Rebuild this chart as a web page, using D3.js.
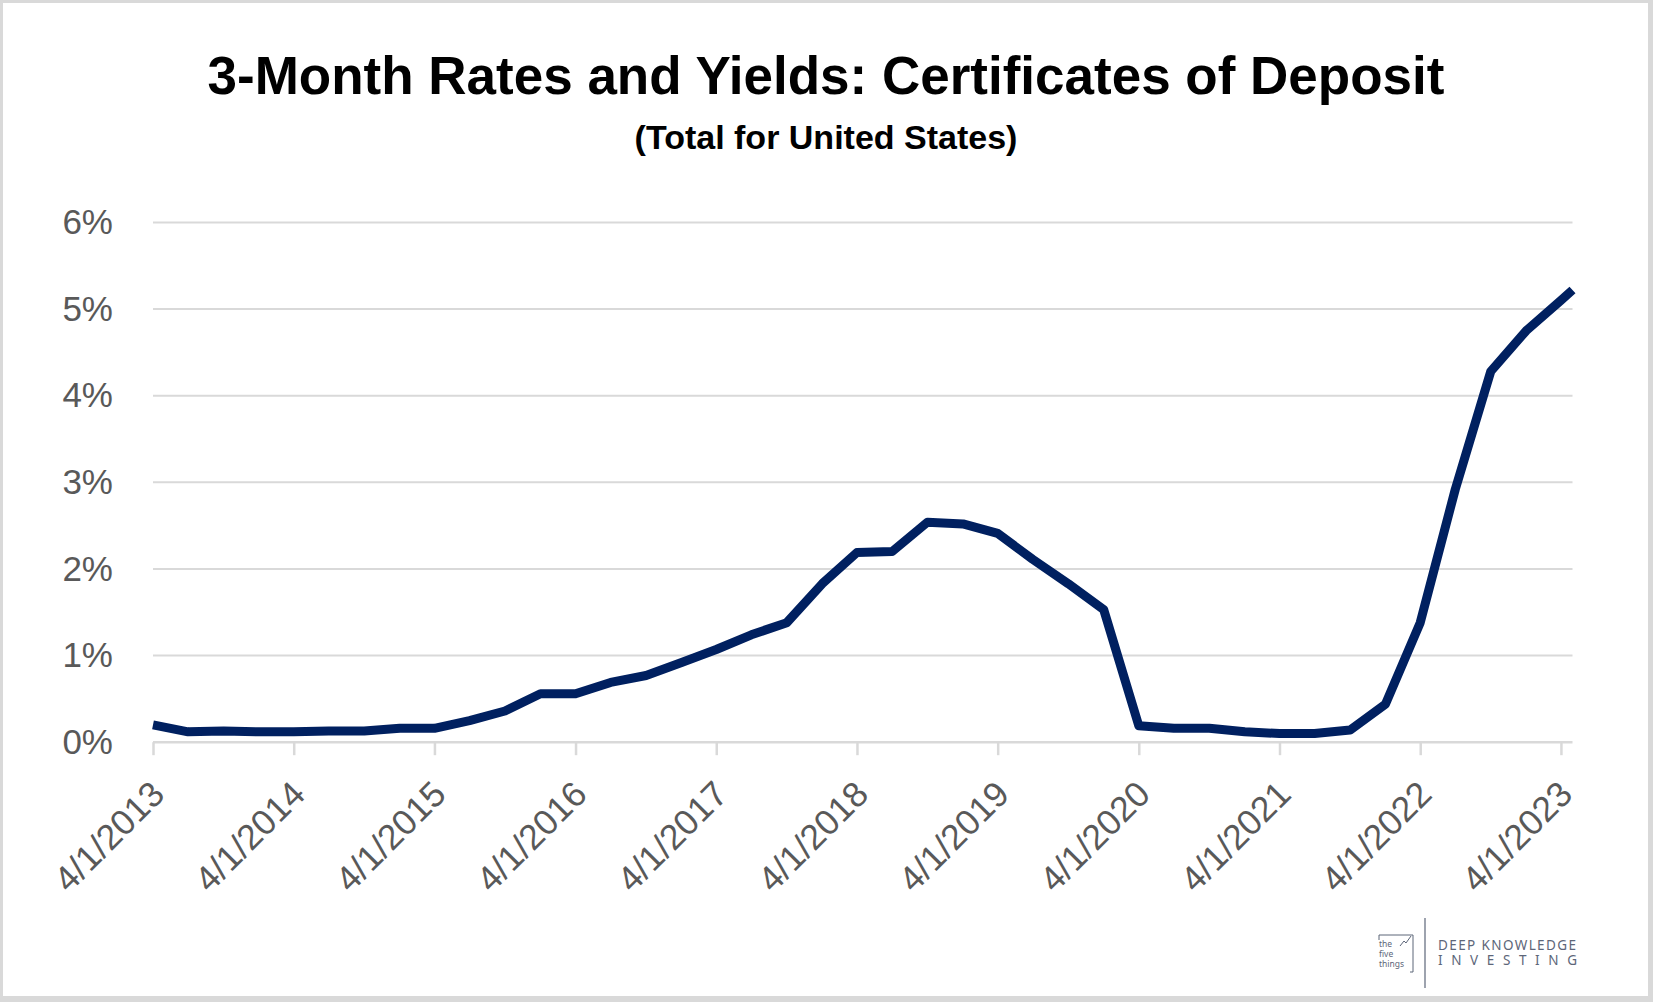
<!DOCTYPE html>
<html>
<head>
<meta charset="utf-8">
<script src="https://cdn.jsdelivr.net/npm/d3@7"></script>
<style>
  html, body { margin: 0; padding: 0; background: #d9d9d9; }
  svg { display: block; }
</style>
</head>
<body>
<svg id="chart" width="1653" height="1002"></svg>
<script>
// ---- data ----
const titleText = "3-Month Rates and Yields: Certificates of Deposit";
const subtitleText = "(Total for United States)";
const dates = [
  "2013-04-01","2013-07-01","2013-10-01","2014-01-01","2014-04-01","2014-07-01","2014-10-01",
  "2015-01-01","2015-04-01","2015-07-01","2015-10-01","2016-01-01","2016-04-01","2016-07-01",
  "2016-10-01","2017-01-01","2017-04-01","2017-07-01","2017-10-01","2018-01-01","2018-04-01",
  "2018-07-01","2018-10-01","2019-01-01","2019-04-01","2019-07-01","2019-10-01","2020-01-01",
  "2020-04-01","2020-07-01","2020-10-01","2021-01-01","2021-04-01","2021-07-01","2021-10-01",
  "2022-01-01","2022-04-01","2022-07-01","2022-10-01","2023-01-01","2023-04-01","2023-05-01"
];
const rates = [
  0.20, 0.12, 0.13, 0.12, 0.12, 0.13, 0.13,
  0.16, 0.16, 0.25, 0.36, 0.56, 0.56, 0.69,
  0.77, 0.92, 1.07, 1.24, 1.38, 1.83, 2.19,
  2.20, 2.54, 2.52, 2.41, 2.11, 1.83, 1.53,
  0.19, 0.16, 0.16, 0.12, 0.10, 0.10, 0.14,
  0.44, 1.38, 2.92, 4.28, 4.75, 5.10, 5.22
];
const yTicks = [0, 1, 2, 3, 4, 5, 6];
const xTickDates = ["2013-04-01","2014-04-01","2015-04-01","2016-04-01","2017-04-01","2018-04-01",
                    "2019-04-01","2020-04-01","2021-04-01","2022-04-01","2023-04-01"];
const xTickLabels = ["4/1/2013","4/1/2014","4/1/2015","4/1/2016","4/1/2017","4/1/2018",
                     "4/1/2019","4/1/2020","4/1/2021","4/1/2022","4/1/2023"];

// ---- chart ----
(function () {
const parse = d3.utcParse("%Y-%m-%d");
const series = dates.map((d, i) => ({ date: parse(d), value: rates[i] }));
const tickDates = xTickDates.map(parse);

const svg = d3.select("#chart");
const pLeft = 153, pRight = 1572.5, pTop = 222.4, pBottom = 742.2;

svg.append("rect").attr("x", 3).attr("y", 3).attr("width", 1645).attr("height", 993).attr("fill", "#ffffff");

const x = d3.scaleUtc().domain([parse("2013-04-01"), parse("2023-05-01")]).range([pLeft, pRight]);
const y = d3.scaleLinear().domain([0, 6]).range([pBottom, pTop]);

const axisFont = "'Liberation Sans', Arial, sans-serif";
const grey = "#595959";
const gridColor = "#d9d9d9";

// gridlines
svg.append("g").selectAll("line").data(yTicks.filter(d => d > 0)).join("line")
  .attr("x1", pLeft).attr("x2", pRight)
  .attr("y1", d => y(d)).attr("y2", d => y(d))
  .attr("stroke", gridColor).attr("stroke-width", 2);

// y axis labels
const yAxis = svg.append("g").attr("transform", `translate(${pLeft},0)`)
  .call(d3.axisLeft(y).tickValues(yTicks).tickSize(0).tickPadding(40).tickFormat(d => d + "%"));
yAxis.select(".domain").remove();
yAxis.selectAll("text").attr("font-family", axisFont).attr("font-size", 35).attr("fill", grey);

// x axis
const xAxis = svg.append("g").attr("transform", `translate(0,${pBottom})`)
  .call(d3.axisBottom(x).tickValues(tickDates).tickSize(13).tickFormat((d, i) => xTickLabels[i]));
xAxis.select(".domain").attr("stroke", gridColor).attr("stroke-width", 2.5)
  .attr("d", `M${pLeft},0H${pRight}`);
xAxis.selectAll(".tick line").attr("stroke", gridColor).attr("stroke-width", 2.5);
xAxis.selectAll(".tick text")
  .attr("font-family", axisFont).attr("font-size", 35.5).attr("fill", grey)
  .attr("text-anchor", "end").attr("x", null).attr("y", null).attr("dy", null)
  .attr("transform", "translate(13,54) rotate(-45)");

// line
const line = d3.line().x(d => x(d.date)).y(d => y(d.value));
svg.append("path").datum(series)
  .attr("d", line).attr("fill", "none")
  .attr("stroke", "#002060").attr("stroke-width", 9)
  .attr("stroke-linejoin", "round").attr("stroke-linecap", "butt");

// titles
svg.append("text").attr("x", 826).attr("y", 94).attr("text-anchor", "middle")
  .attr("font-family", axisFont).attr("font-weight", "bold").attr("font-size", 53)
  .attr("fill", "#000").text(titleText);
svg.append("text").attr("x", 826).attr("y", 149).attr("text-anchor", "middle")
  .attr("font-family", axisFont).attr("font-weight", "bold").attr("font-size", 34)
  .attr("fill", "#000").text(subtitleText);

// logo
const logoColor = "#5d6679";
const logo = svg.append("g");
logo.append("path").attr("d", "M1379,940 V935 H1413 V972 H1410")
  .attr("fill", "none").attr("stroke", logoColor).attr("stroke-width", 1);
logo.append("polyline").attr("points", "1400,946 1404,941 1406,943 1411,936")
  .attr("fill", "none").attr("stroke", logoColor).attr("stroke-width", 1);
["the", "five", "things"].forEach((t, i) => {
  logo.append("text").attr("x", 1379).attr("y", 947 + i * 10)
    .attr("font-family", "'Noto Sans', sans-serif").attr("font-size", 8.5)
    .attr("fill", logoColor).text(t);
});
logo.append("line").attr("x1", 1425).attr("x2", 1425).attr("y1", 918).attr("y2", 988)
  .attr("stroke", logoColor).attr("stroke-width", 1.2);
logo.append("text").attr("x", 1438).attr("y", 950)
  .attr("font-family", "'Noto Sans', sans-serif").attr("font-size", 13.5)
  .attr("textLength", 138).attr("lengthAdjust", "spacing")
  .attr("fill", logoColor).text("DEEP KNOWLEDGE");
logo.append("text").attr("x", 1438).attr("y", 965)
  .attr("font-family", "'Noto Sans', sans-serif").attr("font-size", 13.5)
  .attr("textLength", 139).attr("lengthAdjust", "spacing")
  .attr("fill", logoColor).text("INVESTING");
})();
</script>
</body>
</html>
